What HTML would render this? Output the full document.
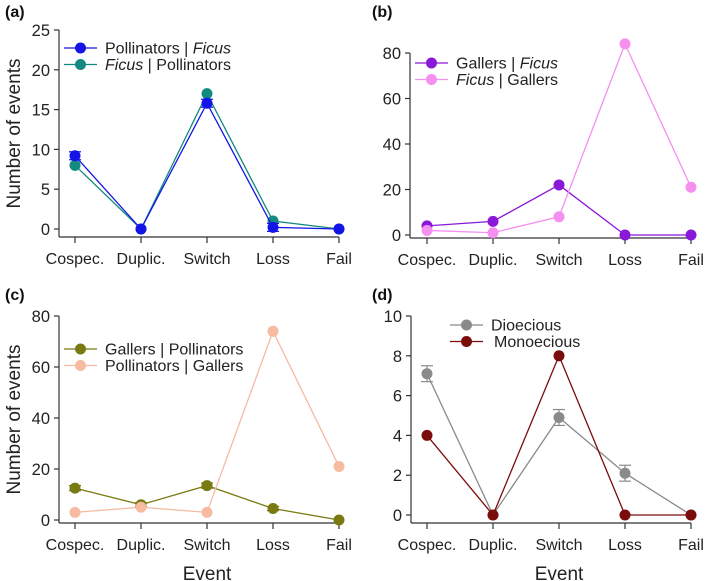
<!DOCTYPE html>
<html><head><meta charset="utf-8"><style>
html,body{margin:0;padding:0;background:#fff;}
svg{display:block;font-family:"Liberation Sans",Arial,sans-serif;}
</style></head><body>
<svg id="fig" width="709" height="581" viewBox="0 0 709 581" xmlns="http://www.w3.org/2000/svg"></svg>
<script>
const categories = ["Cospec.","Duplic.","Switch","Loss","Fail"];
// Panel a
const aPollFicus = [9.2, 0, 15.8, 0.2, 0];
const aPollFicusErr = [0.5, 0, 0.5, 0.5, 0];
const aFicusPoll = [8, 0, 17, 1, 0];
const aTicks = [0,5,10,15,20,25];
// Panel b
const bGallFicus = [4, 6, 22, 0, 0];
const bFicusGall = [2, 1, 8, 84, 21];
const bTicks = [0,20,40,60,80];
// Panel c
const cGallPoll = [12.5, 6, 13.5, 4.5, 0];
const cGallPollErr = [1, 0.8, 1, 0.8, 0];
const cPollGall = [3, 5, 3, 74, 21];
const cTicks = [0,20,40,60,80];
// Panel d
const dDio = [7.1, 0, 4.9, 2.1, 0];
const dDioErr = [0.4, 0, 0.4, 0.4, 0];
const dMono = [4, 0, 8, 0, 0];
const dTicks = [0,2,4,6,8,10];

const NS = "http://www.w3.org/2000/svg";
const svg = document.getElementById('fig');
function mk(tag, attrs, parent, text){
  const e = document.createElementNS(NS, tag);
  for (const k in attrs) e.setAttribute(k, attrs[k]);
  if (text !== undefined) e.textContent = text;
  (parent||svg).appendChild(e);
  return e;
}

function panel(p){
  const g = mk('g', {});
  
  
  const xs = i => p.x0 + i * p.dx;
  const ys = v => p.y0 - v / p.ymax * (p.y0 - p.yTop);
  const lt = mk('text', {x:p.lx, y:p.ly, 'font-size':16, 'font-weight':'bold', fill:'#111'}, g, '(' + p.id + ')');
  
  
  const ya = mk('line', {x1:p.ax, y1:ys(p.ticks[p.ticks.length-1]), x2:p.ax, y2:p.ay, stroke:'#333', 'stroke-width':1.2}, g);
  
  
  p.ticks.forEach(t => {
    mk('line', {x1:p.ax-5, y1:ys(t), x2:p.ax, y2:ys(t), stroke:'#333', 'stroke-width':1.2}, g);
    const tl = mk('text', {x:p.ax-9, y:ys(t)+6, 'font-size':16.5, 'text-anchor':'end', fill:'#222'}, g, String(t));
    
    
  });
  const xa = mk('line', {x1:p.ax, y1:p.ay, x2:xs(4), y2:p.ay, stroke:'#333', 'stroke-width':1.2}, g);
  
  
  categories.forEach((c,i) => {
    mk('line', {x1:xs(i), y1:p.ay, x2:xs(i), y2:p.ay+6, stroke:'#333', 'stroke-width':1.2}, g);
    const tl = mk('text', {x:xs(i), y:p.ay+27, 'font-size':16, 'text-anchor':'middle', fill:'#222'}, g, c);
    
    
  });
  if (p.ylabel){
    const yl = mk('text', {x:0, y:0, 'font-size':19, 'text-anchor':'middle', fill:'#222', transform:'translate(' + p.ylx + ',' + ((p.ay+ys(p.ticks[p.ticks.length-1]))/2) + ') rotate(-90)'}, g, 'Number of events');
    
    
  }
  if (p.xlabel){
    const xl = mk('text', {x:(xs(0)+xs(4))/2, y:p.ay+57, 'font-size':19, 'text-anchor':'middle', fill:'#222'}, g, 'Event');
    
    
  }
  const drawList = p.drawRev ? p.series.slice().reverse() : p.series;
  drawList.forEach(s => {
    const sg = mk('g', {}, g);
    
    
    const pts = s.vals.map((v,i) => xs(i) + ',' + ys(v)).join(' ');
    mk('polyline', {points:pts, fill:'none', stroke:s.color, 'stroke-width':1.3}, sg);
    s.vals.forEach((v,i) => {
      if (s.err && s.err[i] > 0){
        const e1 = ys(v + s.err[i]), e2 = ys(v - s.err[i]);
        mk('line', {x1:xs(i), y1:e1, x2:xs(i), y2:e2, stroke:s.color, 'stroke-width':1.2}, sg);
        mk('line', {x1:xs(i)-6, y1:e1, x2:xs(i)+6, y2:e1, stroke:s.color, 'stroke-width':1.2}, sg);
        mk('line', {x1:xs(i)-6, y1:e2, x2:xs(i)+6, y2:e2, stroke:s.color, 'stroke-width':1.2}, sg);
      }
      const c = mk('circle', {cx:xs(i), cy:ys(v), r:5.5, fill:s.color}, sg);
      
      
    });
  });
  p.series.forEach((s,k) => {
    const y = p.legY + k*16.5;
    const lg = mk('g', {}, g);
    
    
    mk('line', {x1:p.legX, y1:y, x2:p.legX+33, y2:y, stroke:s.color, 'stroke-width':1.3}, lg);
    mk('circle', {cx:p.legX+16.5, cy:y, r:5.5, fill:s.color}, lg);
    const t = mk('text', {x:p.legX+41 + (s.tx||0), y:y+5.5, 'font-size':16, fill:'#222'}, lg);
    s.label.forEach(part => {
      mk('tspan', part[1] ? {'font-style':'italic'} : {}, t, part[0]);
    });
  });
}

panel({id:'a', lx:5, ly:17, ax:59, ay:237, x0:75, dx:66, y0:229, yTop:30, ymax:25, ticks:aTicks, ylabel:true, ylx:20, legX:64, legY:48, drawRev:true,
  series:[
    {key:'pollinators-ficus', color:'#1414e6', vals:aPollFicus, err:aPollFicusErr, label:[['Pollinators | ',0],['Ficus',1]]},
    {key:'ficus-pollinators', color:'#138a80', vals:aFicusPoll, label:[['Ficus',1],[' | Pollinators',0]]}
  ]});
panel({id:'b', lx:372, ly:17, ax:410, ay:238, x0:427, dx:66, y0:235, yTop:53, ymax:80, ticks:bTicks, ylabel:false, legX:415, legY:63,
  series:[
    {key:'gallers-ficus', color:'#8a18d8', vals:bGallFicus, label:[['Gallers | ',0],['Ficus',1]]},
    {key:'ficus-gallers', color:'#f590f0', vals:bFicusGall, label:[['Ficus',1],[' | Gallers',0]]}
  ]});
panel({id:'c', lx:5, ly:300, ax:59, ay:523, x0:75, dx:66, y0:520, yTop:316, ymax:80, ticks:cTicks, ylabel:true, ylx:20, xlabel:true, legX:64, legY:349,
  series:[
    {key:'gallers-pollinators', color:'#7a7a12', vals:cGallPoll, err:cGallPollErr, label:[['Gallers | Pollinators',0]]},
    {key:'pollinators-gallers', color:'#f6bba0', vals:cPollGall, label:[['Pollinators | Gallers',0]]}
  ]});
panel({id:'d', lx:372, ly:300, ax:411, ay:523, x0:427, dx:66, y0:515, yTop:316, ymax:10, ticks:dTicks, ylabel:false, xlabel:true, legX:450, legY:325,
  series:[
    {key:'dioecious', color:'#8a8a8a', vals:dDio, err:dDioErr, label:[['Dioecious',0]]},
    {key:'monoecious', color:'#7a0c0c', vals:dMono, label:[['Monoecious',0]], tx:3}
  ]});
</script>
</body></html>
